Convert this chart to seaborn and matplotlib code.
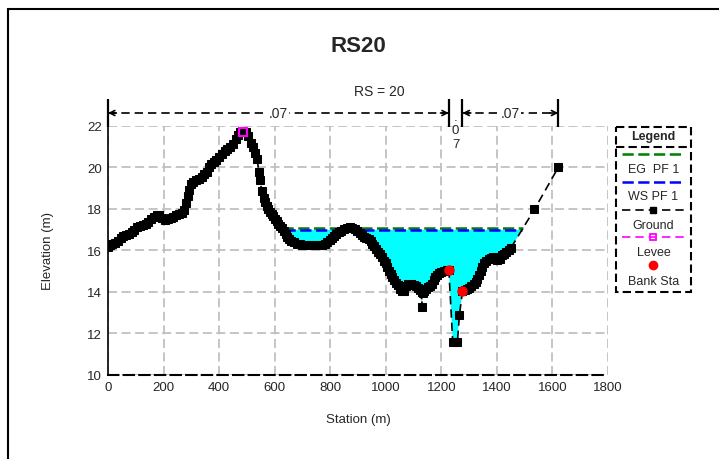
import numpy as np
import pandas as pd
import matplotlib
matplotlib.use("Agg")
import matplotlib.pyplot as plt
from matplotlib.patches import Rectangle
from matplotlib.ticker import MultipleLocator
import seaborn as sns

# ---- cross-section data (RS 20) ----
station = [0, 8, 16, 25, 35, 45, 55, 65, 75, 85, 95, 105, 115, 125, 135, 145,
           155, 165, 175, 185, 195, 205, 215, 225, 235, 245, 255, 265, 275, 281,
           287, 293, 299, 307, 317, 327, 337, 347, 357, 365, 372, 380, 390, 400,
           410, 420, 430, 440, 450, 460, 468, 476, 485, 495, 505, 515, 523, 530,
           537, 543, 548, 553, 560, 565, 571, 577, 583, 589, 595, 601, 607, 613,
           620, 627, 634, 640, 646, 652, 660, 670, 680, 690, 700, 710, 720, 730,
           740, 750, 760, 770, 780, 790, 798, 806, 814, 822, 830, 840, 850, 860,
           870, 880, 890, 898, 906, 914, 922, 930, 938, 946, 952, 958, 965, 972,
           980, 987, 993, 999, 1005, 1011, 1017, 1023, 1030, 1037, 1044, 1052,
           1060, 1066, 1072, 1080, 1090, 1100, 1108, 1116, 1122, 1129, 1129, 1133,
           1139, 1146, 1153, 1160, 1166, 1172, 1178, 1184, 1192, 1200, 1210, 1220,
           1227, 1241, 1258, 1265, 1276, 1284, 1292, 1300, 1308, 1316, 1324, 1330,
           1336, 1342, 1348, 1354, 1362, 1370, 1378, 1386, 1394, 1402, 1410, 1418,
           1426, 1434, 1442, 1450, 1535, 1621]
elevation = [16.15, 16.25, 16.3, 16.35, 16.45, 16.6, 16.7, 16.75, 16.8, 16.9,
             17.0, 17.1, 17.15, 17.2, 17.25, 17.35, 17.5, 17.62, 17.68, 17.7,
             17.55, 17.44, 17.5, 17.58, 17.62, 17.68, 17.75, 17.8, 17.95, 18.3,
             18.6, 18.9, 19.2, 19.3, 19.38, 19.45, 19.55, 19.68, 19.8, 20.0,
             20.15, 20.28, 20.38, 20.5, 20.65, 20.8, 20.9, 21.0, 21.15, 21.35,
             21.55, 21.7, 21.75, 21.7, 21.53, 21.2, 20.97, 20.7, 20.4, 19.8, 19.4,
             18.88, 18.5, 18.32, 18.15, 18.0, 17.85, 17.75, 17.65, 17.5, 17.4,
             17.28, 17.18, 17.08, 16.95, 16.8, 16.65, 16.55, 16.45, 16.38, 16.32,
             16.28, 16.25, 16.24, 16.23, 16.23, 16.24, 16.25, 16.26, 16.27, 16.3,
             16.38, 16.5, 16.6, 16.7, 16.8, 16.88, 16.95, 17.02, 17.08, 17.1,
             17.08, 17.05, 16.95, 16.82, 16.72, 16.62, 16.58, 16.52, 16.45, 16.3,
             16.2, 16.05, 15.92, 15.8, 15.65, 15.5, 15.4, 15.2, 15.0, 14.85, 14.7,
             14.55, 14.42, 14.3, 14.15, 14.02, 14.05, 14.25, 14.38, 14.38, 14.32,
             14.28, 14.2, 14.1, 13.99, 13.26, 13.95, 14.05, 14.15, 14.22, 14.28,
             14.35, 14.55, 14.7, 14.8, 14.88, 14.95, 15.0, 15.05, 15.07, 11.58,
             11.58, 12.86, 14.01, 14.08, 14.14, 14.2, 14.28, 14.38, 14.47, 14.62,
             14.79, 15.0, 15.19, 15.38, 15.5, 15.59, 15.64, 15.67, 15.6, 15.52,
             15.6, 15.75, 15.82, 15.9, 16.0, 16.1, 17.97, 20.0]

levee_station = [485]
levee_elev = [21.7]

bank_station = [1227, 1276]
bank_elev = [15.07, 14.01]

ws_pf1 = 16.98   # water surface, profile 1
eg_pf1 = 17.06   # energy grade, profile 1

mannings_n = [0.07, 0.07, 0.07]   # LOB, channel, ROB

ground = pd.DataFrame({"Station (m)": station, "Elevation (m)": elevation})


def wet_extent(xs, zs, level, start):
    """Outermost stations right of `start` where the ground crosses a level."""
    xs = np.asarray(xs, float)
    zs = np.asarray(zs, float)
    crossings = []
    for i in range(len(xs) - 1):
        z0, z1 = zs[i] - level, zs[i + 1] - level
        if z0 * z1 < 0:
            t = z0 / (z0 - z1)
            x = xs[i] + t * (xs[i + 1] - xs[i])
            if x > start:
                crossings.append(x)
    return crossings[0], crossings[-1]


# ---- styling ----
sns.set_style("white")
plt.rcParams["font.family"] = ["Liberation Sans", "DejaVu Sans"]
plt.rcParams["font.size"] = 9

W, H = 719, 460
fig = plt.figure(figsize=(W / 100, H / 100), dpi=100)

# outer frame
fig.patches.append(Rectangle((8 / W, -0.1), 1.2, 1.1 - 10 / H, transform=fig.transFigure,
                             fill=False, ec="black", lw=1.5))

ax = fig.add_axes([108 / W, (H - 375.5) / H, 500 / W, 248.5 / H])
ax.set_xlim(0, 1800)
ax.set_ylim(10, 22)
ax.set_axisbelow(True)

# the left levee confines the flow, so water starts right of it
xg = np.asarray(station, float)
zg = np.asarray(elevation, float)
eg_l, eg_r = wet_extent(station, elevation, eg_pf1, levee_station[0])
ws_l, ws_r = wet_extent(station, elevation, ws_pf1, levee_station[0])

# water fill between ground and water surface
ax.fill_between(xg, zg, ws_pf1, where=(zg < ws_pf1) & (xg > levee_station[0]),
                interpolate=True, color="#00ffff", lw=0, zorder=1)

# energy grade and water surface lines
ax.plot([eg_l, eg_r], [eg_pf1, eg_pf1], color="#008000", lw=1.8,
        linestyle=(0, (4.5, 1.8)), zorder=3)
ax.plot([ws_l, ws_r], [ws_pf1, ws_pf1], color="#0000ff", lw=1.8,
        linestyle=(0, (4.5, 1.8)), zorder=3)

# ground profile
sns.lineplot(data=ground, x="Station (m)", y="Elevation (m)", ax=ax, sort=False,
             estimator=None, color="black", lw=1.2, linestyle=(0, (5, 3)),
             marker="s", markersize=5.5, markeredgecolor="black",
             markerfacecolor="black", zorder=4)

# levee and bank stations
ax.plot(levee_station, levee_elev, linestyle="none", marker="s", ms=6,
        mfc="none", mec="#ff00ff", mew=1.5, zorder=5)
ax.plot(bank_station, bank_elev, linestyle="none", marker="o", ms=6.5,
        color="red", mec="red", zorder=6)

# axes, grid, ticks
ax.set_xticks(np.arange(0, 1801, 200))
ax.set_yticks(np.arange(10, 23, 2))
ax.xaxis.set_minor_locator(MultipleLocator(100))
ax.yaxis.set_minor_locator(MultipleLocator(0.5))
ax.grid(True, which="major", color="#c0c0c0", lw=1.3, linestyle=(0, (5, 2.5)))
ax.tick_params(axis="x", which="both", direction="out", length=4, width=1.2,
               color="black", labelsize=9.5, pad=1)
ax.tick_params(axis="y", which="major", direction="inout", length=7, width=1.2,
               color="black", labelsize=9.5, pad=1)
ax.tick_params(axis="y", which="minor", direction="in", length=3.5, width=1.2,
               color="black")
for side in ("top", "right"):
    ax.spines[side].set_visible(False)
ax.spines["left"].set_color("black")
ax.spines["left"].set_linewidth(1.2)
ax.spines["bottom"].set_color("black")
ax.spines["bottom"].set_linewidth(1.5)
ax.spines["bottom"].set_linestyle((0, (5, 2.5)))
ax.set_xlabel("Station (m)", fontsize=9.5, labelpad=14)
ax.set_ylabel("Elevation (m)", fontsize=9.5, labelpad=24)

# titles
fig.text(358 / W, 1 - 47 / H, "RS20", ha="center", va="center",
         fontsize=16, fontweight="bold")
fig.text(379 / W, 1 - 92 / H, "RS = 20", ha="center", va="center", fontsize=10)

# Manning's n dimension lines above the section
px_y = 248.5 / 12.0           # pixels per metre of elevation
dim_y = 22 + 13 / px_y
bar_top = 22 + 27 / px_y
bar_bot = 22 - 1 / px_y
edges = [station[0], bank_station[0], bank_station[1], station[-1]]
px_x = 500 / 1800.0
for e in edges:
    ax.plot([e, e], [bar_bot, bar_top], color="black", lw=1.6, clip_on=False,
            solid_capstyle="butt")
for (a, b), n in zip(zip(edges[:-1], edges[1:]), mannings_n):
    label = f"{n:.2f}".lstrip("0")
    mid = (a + b) / 2
    if (b - a) * px_x < 30:
        ax.text(mid, dim_y + 2 / px_y, "\n".join(label), ha="center", va="top",
                fontsize=9.5, linespacing=1.15, clip_on=False)
        continue
    ax.plot([a, b], [dim_y, dim_y], color="black", lw=1.2,
            linestyle=(0, (5, 3)), clip_on=False)
    for tip, tail in ((a, a + 30), (b, b - 30)):
        ax.annotate("", xy=(tip, dim_y), xytext=(tail, dim_y),
                    arrowprops=dict(arrowstyle="->", lw=1.2, color="black",
                                    mutation_scale=9, shrinkA=0, shrinkB=0),
                    annotation_clip=False)
    ax.text(mid, dim_y, label, ha="center", va="center", fontsize=10,
            bbox=dict(boxstyle="square,pad=0.1", fc="white", ec="none"),
            clip_on=False)

# legend panel
lx0, ly0, lw_, lh_ = 615, 127, 77, 167
lax = fig.add_axes([lx0 / W, (H - ly0 - lh_) / H, lw_ / W, lh_ / H])
lax.set_xlim(0, lw_)
lax.set_ylim(lh_, 0)
lax.axis("off")
lax.add_patch(Rectangle((0.8, 0.8), lw_ - 1.6, lh_ - 1.6, fill=False, ec="black",
                        lw=1.5, linestyle=(0, (4, 2)), clip_on=False))
lax.plot([0.8, lw_ - 0.8], [21, 21], color="black", lw=1.5,
         linestyle=(0, (4, 2)), clip_on=False)
lax.text(lw_ / 2, 10, "Legend", ha="center", va="center", fontsize=9,
         fontweight="bold")
dash = (0, (4.5, 1.8))
lx = [7, 69]
lax.plot(lx, [28, 28], color="#008000", lw=1.8, linestyle=dash)
lax.text(lw_ / 2, 43, "EG  PF 1", ha="center", va="center", fontsize=9)
lax.plot(lx, [56, 56], color="#0000ff", lw=1.8, linestyle=dash)
lax.text(lw_ / 2, 70, "WS PF 1", ha="center", va="center", fontsize=9)
lax.plot(lx, [84, 84], color="black", lw=1.2, linestyle=(0, (5, 3)))
lax.plot([38], [84], marker="s", ms=4.5, color="black")
lax.text(lw_ / 2, 99, "Ground", ha="center", va="center", fontsize=9)
lax.plot(lx, [111, 111], color="#ff00ff", lw=1.2, linestyle=(0, (5, 3)))
lax.plot([38], [111], marker="s", ms=5, mfc="none", mec="#ff00ff", mew=1.3)
lax.text(lw_ / 2, 126, "Levee", ha="center", va="center", fontsize=9)
lax.plot([38], [139], marker="o", ms=6, color="red")
lax.text(lw_ / 2, 155, "Bank Sta", ha="center", va="center", fontsize=9)

fig.savefig("out.png", dpi=100)
